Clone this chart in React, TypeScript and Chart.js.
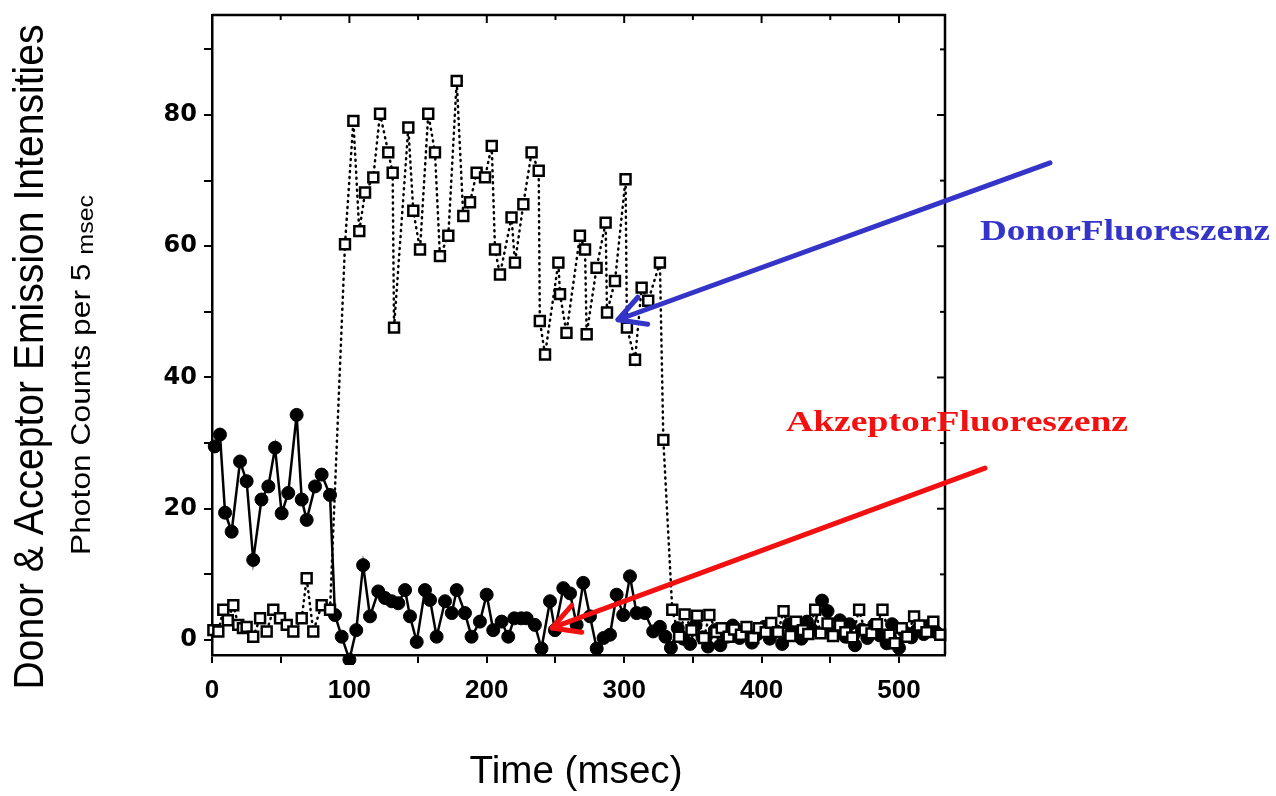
import React, { useEffect, useRef } from 'react';
import { Chart, registerables } from 'chart.js';

Chart.register(...registerables);

// ---- Data ----
const donorTime = [
  1, 4.6, 8.2, 11.5, 15.5, 19.1, 22.5, 25.2, 30, 35, 39.8, 44.6, 49.5, 54.4, 59.2, 65.3, 68.9, 73.7, 79.8, 85.9,
  96.8, 102.9, 107.2, 111.4, 117.4, 122.3, 128.3, 131.5, 132.5, 142.9, 146.5, 151.4, 157.4, 162.3, 165.9, 172,
  178.1, 182.9, 187.8, 192.6, 198.7, 203.6, 206, 209.6, 218, 220.5, 226.6, 232.6, 237.8, 238.6, 242.4, 252.1,
  253.3, 258, 267.8, 271.5, 272.7, 279.9, 286.5, 287.5, 293.3, 301, 302, 307.9, 312.7, 317.5, 326, 328.5,
  335, 340, 344, 349, 353, 358, 362, 367, 371, 376, 380, 385, 389, 394, 398, 403, 407, 412, 416, 421, 425, 430,
  434, 439, 443, 448, 452, 457, 461, 466, 471, 475, 480, 484, 488, 493, 497, 502, 506, 511, 515, 520, 525, 530,
];
const donorCounts = [
  1.5, 1.3, 4.6, 3.0, 5.3, 2.3, 1.8, 2.0, 0.5, 3.3, 1.3, 4.6, 3.3, 2.3, 1.3, 3.3, 9.4, 1.3, 5.3, 4.6,
  60.3, 79.1, 62.3, 68.2, 70.5, 80.2, 74.3, 71.2, 47.6, 78.1, 65.4, 59.5, 80.2, 74.3, 58.5, 61.6,
  85.2, 64.6, 66.7, 71.2, 70.5, 75.3, 59.5, 55.7, 64.4, 57.5, 66.4, 74.3, 71.5, 48.6, 43.5, 57.5,
  52.7, 46.8, 61.6, 59.5, 46.6, 56.7, 63.6, 49.9, 54.7, 70.2, 47.6, 42.7, 53.7, 51.7, 57.5, 30.5,
  4.6, 0.5, 3.9, 1.5, 3.7, 0.3, 3.8, 1.2, 1.8, 0.5, 1.6, 0.8, 2.0, 0.3, 1.8, 1.2, 2.6, 1.2, 4.4, 0.6, 2.8, 1.5,
  0.9, 4.6, 1.0, 2.5, 0.6, 2.2, 1.2, 0.4, 4.6, 1.5, 1.0, 2.4, 4.6, 0.8, -0.5, 1.8, 0.5, 3.6, 2.2, 1.2, 2.8, 0.8,
];

const acceptorTime = [
  2, 5.8, 9.5, 14.3, 20.4, 25.2, 30, 36, 41, 45.9, 50.7, 55.5, 61.6, 65.3, 68.9, 75, 79.8, 85.9, 89.5, 94.4,
  100, 105, 110, 115, 121, 125.9, 130.8, 135.6, 140.5, 144.1, 149, 155, 158.7, 163.5, 169.6, 174.5, 178.1, 184.1,
  188.9, 195, 199.9, 204.7, 210.8, 215.6, 220, 225, 229, 235, 239.8, 246, 249.6, 255.7, 260.6, 265.4, 270.2,
  275.1, 280, 285, 289.7, 294.5, 299.3, 304.2, 309, 315.1, 321.1, 326,
  330, 334, 339, 343, 348, 352, 357, 361, 366, 370, 375, 379, 384, 388, 393, 397, 402, 406, 411, 415, 420, 424,
  429, 433, 437, 444, 448, 452, 457, 461, 464, 468, 473, 477, 482, 486, 491, 495, 500, 504, 509, 513, 518, 522, 527,
];
const acceptorCounts = [
  29.5, 31.3, 19.4, 16.5, 27.2, 24.2, 12.2, 21.4, 23.4, 29.3, 19.3, 22.4, 34.3, 21.4, 18.3, 23.4, 25.2, 22.1, 3.8, 0.5,
  -3.0, 1.5, 11.4, 3.6, 7.4, 6.4, 5.9, 5.6, 7.6, 3.6, -0.3, 7.6, 6.1, 0.5, 5.9, 4.1, 7.6, 4.1,
  0.5, 2.8, 6.9, 1.5, 2.8, 0.5, 3.3, 3.3, 3.3, 2.3, -1.3, 5.9, 1.5, 7.9, 7.1, 2.3, 8.7,
  3.6, -1.3, 0.3, 0.8, 6.9, 3.8, 9.7, 4.1, 4.1, 1.3, 2.0,
  0.5, -1.2, 1.8, 0.2, -0.6, 2.3, 0.4, -1.0, 1.5, -0.8, 0.5, 2.2, 0.3, 1.5, -0.4, 0.9, 2.0, 0.2, 1.3, -0.6, 2.4, 1.0,
  0.2, 2.8, 1.5, 6.0, 4.4, 1.2, 3.0, 0.5, 2.4, -0.8, 1.6, 0.3, 2.3, 0.7, -0.5, 2.4, -1.2, 1.2, 0.4, 1.5, 0.9, 2.2, 1.2,
];

// Annotation arrows in data coordinates: [fromX, fromY, toX, toY]
const donorArrow = [609.9, 72.7, 295.5, 48.8];
const acceptorArrow = [562.6, 26.2, 247.5, 1.83];

const donorLabel = 'DonorFluoreszenz';
const acceptorLabel = 'AkzeptorFluoreszenz';
const yTitle = 'Donor & Acceptor Emission Intensities';
const ySubTitleMain = 'Photon Counts per 5 ';
const ySubTitleSub = 'msec';
const xTitle = 'Time (msec)';

const SANS = "'Liberation Sans Narrow', 'Liberation Sans', Arial, sans-serif";
const SERIF = "'Liberation Serif', 'Times New Roman', serif";

type Part = { text: string; font: string; dy?: number };

function fitText(ctx: CanvasRenderingContext2D, parts: Part[], cx: number, cy: number, width: number, angle: number, color: string) {
  ctx.save();
  let total = 0;
  const widths: number[] = [];
  for (const p of parts) {
    ctx.font = p.font;
    const w = ctx.measureText(p.text).width;
    widths.push(w);
    total += w;
  }
  const s = width / total;
  ctx.translate(cx, cy);
  ctx.rotate(angle);
  ctx.scale(s, 1);
  ctx.fillStyle = color;
  ctx.textBaseline = 'middle';
  ctx.textAlign = 'left';
  let x = -total / 2;
  parts.forEach((p, i) => {
    ctx.font = p.font;
    ctx.fillText(p.text, x, p.dy || 0);
    x += widths[i];
  });
  ctx.restore();
}

function drawArrow(ctx: CanvasRenderingContext2D, x1: number, y1: number, x2: number, y2: number, color: string) {
  const ang = Math.atan2(y2 - y1, x2 - x1);
  const head = 30;
  const spread = 0.5;
  ctx.save();
  ctx.strokeStyle = color;
  ctx.lineWidth = 5;
  ctx.lineCap = 'round';
  ctx.lineJoin = 'round';
  ctx.beginPath();
  ctx.moveTo(x1, y1);
  ctx.lineTo(x2, y2);
  ctx.stroke();
  ctx.beginPath();
  ctx.moveTo(x2 - head * Math.cos(ang - spread), y2 - head * Math.sin(ang - spread));
  ctx.lineTo(x2, y2);
  ctx.lineTo(x2 - head * Math.cos(ang + spread), y2 - head * Math.sin(ang + spread));
  ctx.stroke();
  ctx.restore();
}

const decorPlugin = {
  id: 'decor',
  afterDraw(chart: any) {
    const { ctx, chartArea, scales } = chart;
    const xs = scales.x;
    const ys = scales.y;
    // frame (top and right) with inward ticks
    ctx.save();
    ctx.strokeStyle = '#000';
    ctx.lineWidth = 2.5;
    ctx.beginPath();
    ctx.moveTo(chartArea.left, chartArea.top);
    ctx.lineTo(chartArea.right, chartArea.top);
    ctx.lineTo(chartArea.right, chartArea.bottom);
    ctx.stroke();
    ctx.lineWidth = 2;
    for (let v = 0; v <= 90; v += 10) {
      const py = ys.getPixelForValue(v);
      const len = v % 20 === 0 ? 8 : 5;
      ctx.beginPath();
      ctx.moveTo(chartArea.right, py);
      ctx.lineTo(chartArea.right - len, py);
      ctx.stroke();
    }
    for (let t = 50; t <= 500; t += 50) {
      const px = xs.getPixelForValue(t);
      const len = t % 100 === 0 ? 8 : 5;
      ctx.beginPath();
      ctx.moveTo(px, chartArea.top);
      ctx.lineTo(px, chartArea.top + len);
      ctx.stroke();
    }
    ctx.restore();

    // axis titles
    fitText(ctx, [{ text: yTitle, font: `42px ${SANS}` }], 31, 357, 665, -Math.PI / 2, '#000');
    fitText(
      ctx,
      [
        { text: ySubTitleMain, font: `28px ${SANS}` },
        { text: ySubTitleSub, font: `22px ${SANS}`, dy: 5 },
      ],
      82, 375, 360, -Math.PI / 2, '#000'
    );
    fitText(ctx, [{ text: xTitle, font: `38px ${SANS}` }], 576, 773, 213, 0, '#000');

    // annotations
    const pt = (x: number, y: number) => [xs.getPixelForValue(x), ys.getPixelForValue(y)];
    const [b1x, b1y] = pt(donorArrow[0], donorArrow[1]);
    const [b2x, b2y] = pt(donorArrow[2], donorArrow[3]);
    drawArrow(ctx, b1x, b1y, b2x, b2y, '#3434C8');
    const [r1x, r1y] = pt(acceptorArrow[0], acceptorArrow[1]);
    const [r2x, r2y] = pt(acceptorArrow[2], acceptorArrow[3]);
    drawArrow(ctx, r1x, r1y, r2x, r2y, '#F21010');
    fitText(ctx, [{ text: donorLabel, font: `bold 30px ${SERIF}` }], 1125, 232, 290, 0, '#3434C8');
    fitText(ctx, [{ text: acceptorLabel, font: `bold 30px ${SERIF}` }], 957, 423, 342, 0, '#F21010');
  },
};

export default function App() {
  const ref = useRef<HTMLCanvasElement | null>(null);

  useEffect(() => {
    if (!ref.current) return;
    const donorData = donorTime.map((t, i) => ({ x: t, y: donorCounts[i] }));
    const acceptorData = acceptorTime.map((t, i) => ({ x: t, y: acceptorCounts[i] }));

    const chart = new Chart(ref.current, {
      type: 'line',
      data: {
        datasets: [
          {
            label: 'Donor',
            data: donorData,
            borderColor: '#000',
            borderWidth: 2.5,
            borderDash: [1, 5],
            borderCapStyle: 'round',
            backgroundColor: '#fff',
            pointStyle: 'rect',
            pointRadius: 7,
            pointBorderWidth: 2.5,
            pointBorderColor: '#000',
            pointBackgroundColor: '#fff',
            tension: 0,
            clip: 10,
          } as any,
          {
            label: 'Acceptor',
            data: acceptorData,
            borderColor: '#000',
            borderWidth: 2.5,
            backgroundColor: '#000',
            pointStyle: 'circle',
            pointRadius: 6.5,
            pointBorderWidth: 1,
            pointBorderColor: '#000',
            pointBackgroundColor: '#000',
            tension: 0,
            clip: 10,
          } as any,
        ],
      },
      options: {
        animation: false,
        responsive: false,
        maintainAspectRatio: false,
        layout: { padding: { left: 0, top: 15, right: 331, bottom: 0 } },
        plugins: {
          legend: { display: false },
          tooltip: { enabled: false },
          title: { display: false },
        },
        scales: {
          x: {
            type: 'linear',
            min: 0,
            max: 533.5,
            afterFit: (scale: any) => {
              scale.height = 141;
              scale.paddingLeft = 0;
              scale.paddingRight = 0;
            },
            border: { display: true, color: '#000', width: 2.5 },
            grid: {
              display: true,
              drawOnChartArea: false,
              drawTicks: true,
              tickLength: 8,
              color: '#000',
              lineWidth: 2,
            },
            ticks: {
              stepSize: 50,
              includeBounds: false,
              autoSkip: false,
              maxRotation: 0,
              padding: 12,
              color: '#000',
              font: { family: SANS, size: 26, weight: 'bold' },
              callback: (v: any) => (Number(v) % 100 === 0 ? String(v) : ''),
            },
          } as any,
          y: {
            type: 'linear',
            min: -2.29,
            max: 95.24,
            afterFit: (scale: any) => {
              scale.width = 212;
              scale.paddingTop = 0;
              scale.paddingBottom = 0;
            },
            border: { display: true, color: '#000', width: 2.5 },
            grid: {
              display: true,
              drawOnChartArea: false,
              drawTicks: true,
              tickLength: 8,
              color: '#000',
              lineWidth: 2,
            },
            ticks: {
              stepSize: 10,
              includeBounds: false,
              autoSkip: false,
              padding: 7,
              color: '#000',
              font: { family: "'DejaVu Sans', 'Liberation Sans', Arial, sans-serif", size: 24, weight: 'bold' },
              callback: (v: any) => (Number(v) % 20 === 0 ? String(v) : ''),
            },
          } as any,
        },
      },
      plugins: [decorPlugin],
    });
    return () => chart.destroy();
  }, []);

  return (
    <div style={{ position: 'fixed', left: 0, top: 0, width: 1276, height: 796, background: '#fff' }}>
      <canvas ref={ref} width={1276} height={796} style={{ display: 'block' }} />
    </div>
  );
}
